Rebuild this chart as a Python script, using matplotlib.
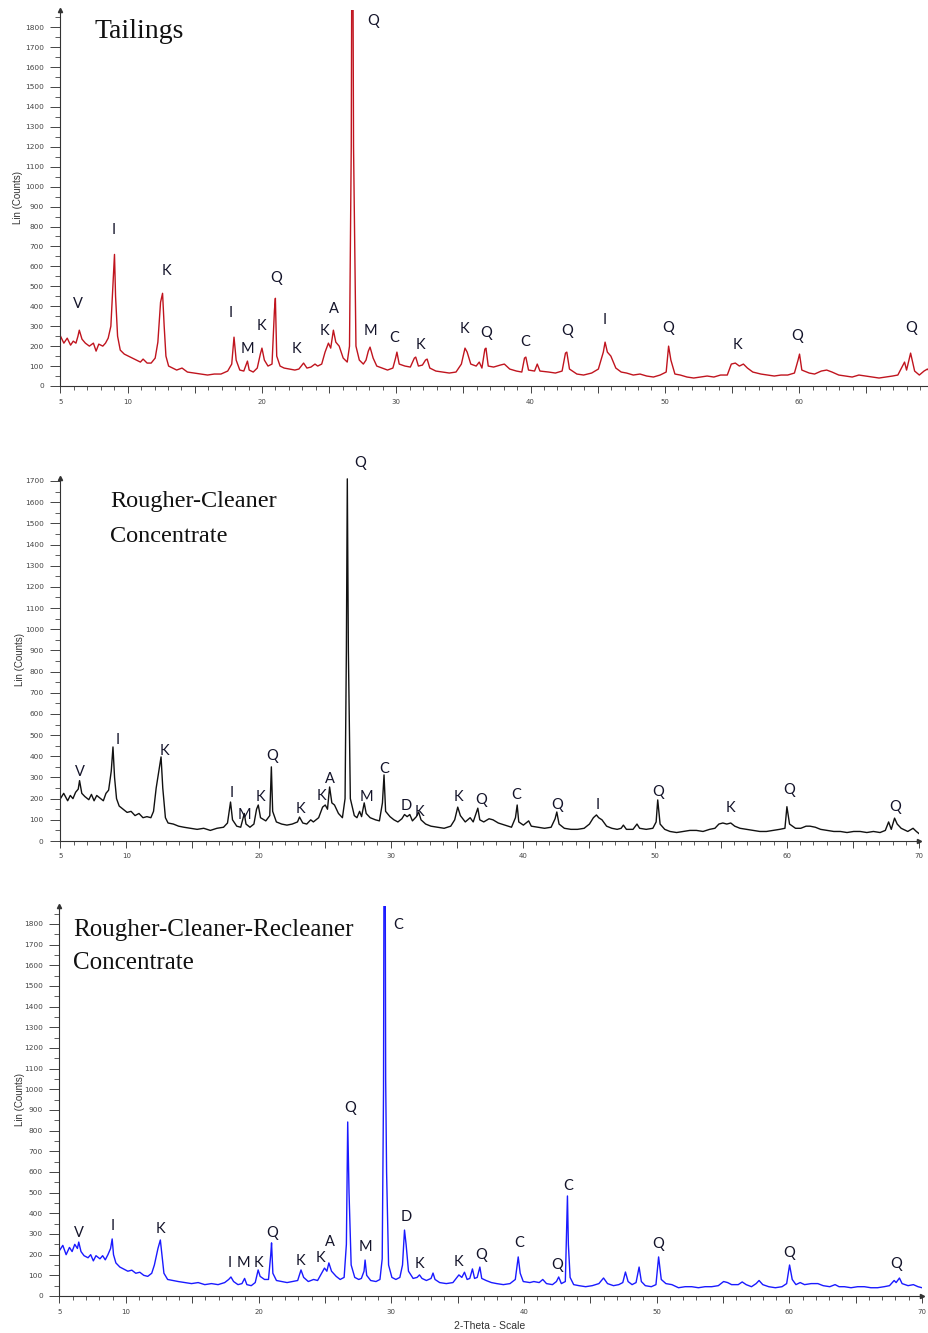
import matplotlib
matplotlib.use("Agg")
import matplotlib.pyplot as plt
from matplotlib.ticker import MultipleLocator, FixedLocator, FuncFormatter

# ---------------- DATA ----------------
tailings_points = [
    (5.0, 250), (5.25, 215), (5.5, 240), (5.75, 205), (5.95, 225), (6.15, 215), (6.3, 250), (6.4, 280),
    (6.6, 235), (6.85, 215), (7.15, 200), (7.45, 215), (7.65, 175), (7.85, 210), (8.15, 200), (8.35, 215),
    (8.55, 240), (8.75, 300), (8.95, 560), (9.02, 660), (9.1, 450), (9.25, 250), (9.45, 180), (9.75, 160),
    (10.05, 150), (10.35, 140), (10.65, 130), (10.95, 120), (11.15, 135), (11.45, 115), (11.75, 115), (12.05, 140),
    (12.25, 220), (12.45, 420), (12.6, 465), (12.72, 300), (12.85, 150), (13.05, 100), (13.35, 90), (13.65, 80),
    (14.05, 90), (14.45, 70), (14.95, 65), (15.45, 60), (15.95, 55), (16.45, 60), (16.95, 60), (17.45, 75),
    (17.75, 110), (17.92, 245), (18.08, 130), (18.35, 80), (18.65, 75), (18.92, 125), (19.05, 80), (19.35, 70),
    (19.65, 90), (19.88, 160), (20.0, 190), (20.18, 130), (20.45, 100), (20.75, 110), (20.93, 380), (21.0, 440),
    (21.1, 150), (21.35, 100), (21.65, 90), (22.05, 85), (22.45, 80), (22.75, 85), (23.1, 115), (23.35, 90),
    (23.65, 95), (23.95, 110), (24.15, 100), (24.45, 110), (24.7, 170), (24.95, 215), (25.12, 190), (25.32, 280),
    (25.5, 220), (25.75, 200), (26.05, 140), (26.35, 120), (26.52, 200), (26.65, 1200), (26.73, 3000), (26.82, 1200),
    (27.0, 200), (27.25, 130), (27.55, 110), (27.75, 130), (27.92, 175), (28.05, 195), (28.28, 140), (28.55, 100),
    (28.95, 90), (29.35, 80), (29.75, 90), (29.95, 140), (30.05, 170), (30.22, 110), (30.65, 100), (31.05, 95),
    (31.35, 140), (31.45, 145), (31.65, 100), (31.95, 105), (32.18, 130), (32.3, 135), (32.5, 90), (32.95, 75),
    (33.45, 70), (33.95, 65), (34.45, 70), (34.85, 110), (35.12, 190), (35.28, 170), (35.55, 110), (35.95, 100),
    (36.18, 120), (36.38, 90), (36.6, 185), (36.68, 190), (36.85, 100), (37.25, 95), (37.75, 105), (38.05, 110),
    (38.45, 85), (38.95, 75), (39.35, 70), (39.55, 140), (39.65, 145), (39.85, 80), (40.3, 75), (40.5, 110),
    (40.7, 75), (41.35, 70), (41.85, 65), (42.35, 75), (42.6, 165), (42.7, 170), (42.9, 85), (43.45, 60),
    (43.95, 55), (44.55, 65), (45.05, 85), (45.42, 170), (45.55, 220), (45.72, 170), (45.98, 150), (46.35, 90),
    (46.75, 70), (47.15, 65), (47.65, 55), (48.15, 60), (48.65, 50), (49.15, 45), (49.65, 55), (50.1, 70),
    (50.28, 200), (50.45, 130), (50.75, 60), (51.15, 55), (51.65, 45), (52.15, 40), (52.65, 45), (53.15, 50),
    (53.65, 45), (54.15, 55), (54.65, 55), (54.95, 110), (55.25, 115), (55.55, 100), (55.85, 110), (56.15, 90),
    (56.55, 70), (57.15, 60), (57.65, 55), (58.15, 50), (58.65, 55), (59.15, 55), (59.65, 65), (59.92, 130),
    (60.03, 160), (60.2, 80), (60.75, 65), (61.15, 60), (61.65, 75), (62.05, 80), (62.45, 70), (62.95, 55),
    (63.45, 50), (63.95, 45), (64.45, 55), (64.95, 50), (65.45, 45), (65.95, 40), (66.45, 45), (66.95, 50),
    (67.35, 55), (67.85, 120), (68.0, 80), (68.3, 165), (68.45, 120), (68.6, 75), (68.95, 55), (69.3, 75),
    (69.55, 85), (69.7, 75),
]

rc_points = [
    (5.0, 200), (5.25, 225), (5.55, 190), (5.75, 215), (5.95, 200), (6.15, 230), (6.35, 245), (6.45, 285),
    (6.62, 225), (6.85, 210), (7.15, 195), (7.35, 220), (7.55, 190), (7.75, 215), (8.05, 200), (8.25, 190),
    (8.45, 225), (8.65, 240), (8.85, 330), (8.98, 444), (9.1, 300), (9.25, 200), (9.45, 165), (9.75, 150),
    (10.05, 135), (10.35, 140), (10.65, 120), (10.95, 130), (11.25, 110), (11.55, 115), (11.85, 110), (12.05, 140),
    (12.25, 250), (12.45, 330), (12.62, 397), (12.75, 250), (12.95, 110), (13.15, 85), (13.55, 80), (13.95, 70),
    (14.35, 65), (14.85, 60), (15.35, 55), (15.85, 60), (16.35, 50), (16.85, 60), (17.35, 65), (17.65, 85),
    (17.88, 184), (18.03, 100), (18.35, 70), (18.65, 65), (18.92, 130), (19.05, 80), (19.35, 65), (19.65, 80),
    (19.85, 150), (19.98, 170), (20.15, 110), (20.55, 95), (20.85, 120), (20.97, 350), (21.07, 140), (21.35, 90),
    (21.75, 80), (22.15, 75), (22.55, 80), (22.95, 90), (23.1, 113), (23.35, 85), (23.65, 80), (23.95, 100),
    (24.15, 90), (24.55, 110), (24.85, 160), (25.05, 170), (25.22, 150), (25.38, 255), (25.55, 180), (25.75, 170),
    (26.05, 130), (26.35, 110), (26.55, 200), (26.65, 900), (26.72, 1710), (26.8, 900), (26.95, 200), (27.25, 120),
    (27.45, 110), (27.65, 140), (27.8, 115), (28.0, 180), (28.15, 130), (28.45, 110), (28.85, 100), (29.15, 95),
    (29.38, 180), (29.5, 312), (29.62, 140), (29.95, 115), (30.25, 100), (30.55, 90), (30.85, 105), (31.05, 125),
    (31.25, 115), (31.45, 125), (31.65, 95), (31.95, 115), (32.12, 137), (32.3, 100), (32.65, 80), (33.05, 70),
    (33.55, 65), (34.05, 60), (34.55, 70), (34.85, 100), (35.08, 160), (35.28, 120), (35.65, 90), (36.02, 110),
    (36.25, 90), (36.6, 155), (36.75, 100), (37.05, 90), (37.45, 105), (37.75, 100), (38.15, 85), (38.65, 75),
    (39.15, 65), (39.45, 110), (39.58, 170), (39.7, 90), (40.05, 75), (40.45, 95), (40.65, 70), (41.15, 65),
    (41.65, 60), (42.15, 65), (42.45, 105), (42.58, 137), (42.75, 80), (43.15, 60), (43.65, 55), (44.15, 55),
    (44.65, 60), (45.05, 80), (45.35, 110), (45.58, 123), (45.75, 110), (46.0, 100), (46.35, 70), (46.75, 60),
    (47.15, 55), (47.45, 60), (47.62, 75), (47.85, 55), (48.35, 55), (48.65, 80), (48.85, 60), (49.35, 55),
    (49.85, 60), (50.1, 90), (50.22, 194), (50.4, 80), (50.75, 55), (51.15, 45), (51.65, 40), (52.15, 45),
    (52.65, 50), (53.15, 50), (53.65, 45), (54.15, 55), (54.55, 60), (54.85, 80), (55.15, 85), (55.45, 80),
    (55.75, 85), (56.05, 70), (56.45, 60), (56.95, 55), (57.45, 50), (57.95, 45), (58.45, 45), (58.95, 50),
    (59.45, 55), (59.85, 60), (60.0, 162), (60.2, 80), (60.65, 60), (61.05, 60), (61.45, 70), (61.75, 70),
    (62.15, 65), (62.55, 55), (63.05, 50), (63.55, 45), (64.05, 45), (64.55, 40), (65.05, 45), (65.55, 45),
    (66.05, 40), (66.55, 45), (67.05, 40), (67.45, 50), (67.7, 90), (67.9, 55), (68.15, 108), (68.35, 80),
    (68.65, 60), (69.15, 45), (69.55, 60), (69.8, 45), (70.0, 35),
]

rcr_points = [
    (5.0, 220), (5.25, 245), (5.5, 200), (5.75, 235), (5.95, 215), (6.15, 250), (6.35, 230), (6.45, 261),
    (6.62, 215), (6.85, 195), (7.15, 185), (7.35, 200), (7.55, 170), (7.75, 195), (8.05, 180), (8.25, 195),
    (8.45, 175), (8.65, 200), (8.85, 230), (8.97, 276), (9.07, 200), (9.25, 160), (9.55, 140), (9.85, 130),
    (10.15, 120), (10.45, 125), (10.75, 110), (11.05, 115), (11.35, 100), (11.65, 95), (11.95, 110), (12.15, 150),
    (12.42, 230), (12.6, 271), (12.72, 200), (12.87, 110), (13.15, 80), (13.55, 75), (13.95, 70), (14.45, 65),
    (14.95, 60), (15.45, 65), (15.95, 55), (16.45, 60), (16.95, 55), (17.45, 65), (17.75, 80), (17.92, 92),
    (18.12, 70), (18.45, 55), (18.75, 60), (18.95, 85), (19.12, 55), (19.45, 50), (19.75, 65), (19.97, 126),
    (20.12, 95), (20.45, 80), (20.75, 80), (20.92, 200), (20.98, 257), (21.08, 110), (21.35, 75), (21.75, 70),
    (22.15, 65), (22.55, 70), (22.95, 75), (23.2, 126), (23.4, 90), (23.75, 70), (24.15, 80), (24.45, 75),
    (24.75, 110), (24.97, 135), (25.15, 120), (25.3, 160), (25.5, 120), (25.85, 95), (26.15, 80), (26.45, 90),
    (26.62, 250), (26.72, 842), (26.82, 500), (26.98, 150), (27.25, 90), (27.55, 80), (27.75, 85), (27.95, 120),
    (28.03, 174), (28.15, 100), (28.45, 75), (28.85, 70), (29.15, 80), (29.32, 180), (29.42, 1000), (29.5, 3500),
    (29.58, 1050), (29.65, 600), (29.8, 150), (30.05, 90), (30.35, 80), (30.65, 90), (30.85, 150), (31.0, 319),
    (31.12, 250), (31.3, 120), (31.65, 85), (31.95, 90), (32.13, 102), (32.32, 85), (32.65, 75), (33.0, 85),
    (33.15, 111), (33.3, 80), (33.65, 65), (34.15, 60), (34.65, 65), (34.95, 90), (35.1, 102), (35.32, 90),
    (35.52, 115), (35.72, 80), (35.92, 85), (36.12, 131), (36.28, 85), (36.48, 90), (36.68, 140), (36.82, 85),
    (37.15, 75), (37.55, 65), (37.95, 60), (38.45, 55), (38.95, 60), (39.35, 80), (39.57, 189), (39.72, 110),
    (39.95, 70), (40.45, 65), (40.75, 70), (41.15, 65), (41.42, 80), (41.7, 60), (42.15, 55), (42.45, 70),
    (42.62, 92), (42.82, 60), (43.12, 70), (43.28, 484), (43.35, 250), (43.48, 90), (43.75, 55), (44.15, 50),
    (44.65, 45), (45.15, 50), (45.65, 60), (46.0, 87), (46.3, 60), (46.75, 50), (47.15, 55), (47.45, 65),
    (47.65, 116), (47.85, 70), (48.15, 55), (48.45, 65), (48.68, 140), (48.85, 70), (49.15, 50), (49.6, 45),
    (49.95, 55), (50.15, 189), (50.35, 80), (50.7, 60), (51.15, 55), (51.65, 40), (52.15, 45), (52.65, 45),
    (53.15, 40), (53.65, 45), (54.15, 45), (54.65, 50), (55.05, 70), (55.35, 65), (55.65, 55), (56.15, 55),
    (56.45, 68), (56.75, 55), (57.15, 45), (57.5, 60), (57.72, 75), (58.0, 55), (58.45, 45), (58.95, 40),
    (59.45, 45), (59.8, 60), (60.02, 150), (60.22, 80), (60.5, 55), (60.82, 65), (61.15, 55), (61.65, 60),
    (62.15, 60), (62.55, 50), (63.05, 45), (63.45, 55), (63.75, 45), (64.15, 45), (64.65, 40), (65.15, 45),
    (65.65, 45), (66.15, 40), (66.65, 40), (67.15, 45), (67.55, 50), (67.9, 75), (68.05, 65), (68.3, 87),
    (68.5, 60), (68.95, 50), (69.35, 55), (69.7, 45), (70.0, 40),
]

tailings_labels = [
    ("V", 6.27, 411), ("I", 8.99, 783), ("K", 12.9, 577), ("I", 17.65, 366), ("M", 18.9, 185),
    ("K", 19.97, 301), ("Q", 21.08, 542), ("K", 22.57, 185), ("K", 24.65, 276), ("A", 25.32, 386),
    ("Q", 28.3, 1830), ("M", 28.08, 276), ("C", 29.86, 241), ("K", 31.8, 206), ("K", 35.08, 286),
    ("Q", 36.72, 266), ("C", 39.62, 221), ("Q", 42.74, 276), ("I", 45.5, 331), ("Q", 50.27, 291),
    ("K", 55.4, 206), ("Q", 59.87, 251), ("Q", 68.36, 291),
]
rc_labels = [
    ("V", 6.44, 326), ("I", 9.31, 477), ("K", 12.87, 425), ("I", 17.97, 227), ("M", 18.92, 123),
    ("K", 20.13, 208), ("Q", 21.04, 401), ("K", 23.16, 151), ("K", 24.75, 212), ("A", 25.43, 293),
    ("Q", 27.7, 1785), ("M", 28.15, 208), ("C", 29.52, 340), ("D", 31.19, 165), ("K", 32.17, 137),
    ("K", 35.12, 208), ("Q", 36.86, 194), ("C", 39.51, 217), ("Q", 42.61, 170), ("I", 45.71, 170),
    ("Q", 50.25, 231), ("K", 55.7, 156), ("Q", 60.16, 241), ("Q", 68.19, 161),
]
rcr_labels = [
    ("V", 6.47, 305), ("I", 9.02, 339), ("K", 12.63, 324), ("I", 17.82, 160), ("M", 18.87, 160),
    ("K", 20.0, 160), ("Q", 21.05, 305), ("K", 23.16, 169), ("K", 24.66, 184), ("A", 25.34, 261),
    ("Q", 26.92, 910), ("M", 28.05, 237), ("C", 30.53, 1795), ("D", 31.13, 382), ("K", 32.1, 155),
    ("K", 35.03, 164), ("Q", 36.77, 198), ("C", 39.62, 257), ("Q", 42.48, 150), ("C", 43.31, 532),
    ("Q", 50.15, 252), ("Q", 59.98, 208), ("Q", 68.04, 155),
]

panel_titles = [["Tailings"], ["Rougher-Cleaner", "Concentrate"],
                ["Rougher-Cleaner-Recleaner", "Concentrate"]]
y_tick_max = [1800, 1700, 1800]
x_label = "2-Theta - Scale"
y_label = "Lin (Counts)"

# ---------------- FIGURE ----------------
W, H = 929, 1333
fig = plt.figure(figsize=(W / 100, H / 100), dpi=100)

def px_rect(left, right, top, bottom):
    return [left / W, 1 - bottom / H, (right - left) / W, (bottom - top) / H]

panels = [
    dict(points=tailings_points, labels=tailings_labels, color="#c0141e",
         rect=px_rect(60.5, 929, 10, 386), xlim=(5, 69.67), ylim=(0, 1886),
         title_x=95, title_ys=[32], title_size=20, ylab_xy=(18, 197), xarrow=False),
    dict(points=rc_points, labels=rc_labels, color="#111111",
         rect=px_rect(60.4, 919, 478, 841), xlim=(5, 70), ylim=(0, 1714),
         title_x=110, title_ys=[502, 537], title_size=17.5, ylab_xy=(20, 660), xarrow=True),
    dict(points=rcr_points, labels=rcr_labels, color="#1a1aff",
         rect=px_rect(59.5, 922, 906, 1296), xlim=(5, 70), ylim=(0, 1887),
         title_x=73, title_ys=[930, 963], title_size=18, ylab_xy=(20, 1100), xarrow=True),
]

tick_color = "#444444"

def xfmt(v, pos):
    iv = int(round(v))
    if iv == 5 or iv % 10 == 0:
        return str(iv)
    return ""

for i, p in enumerate(panels):
    ax = fig.add_axes(p["rect"])
    theta, counts = zip(*p["points"])
    ax.plot(theta, counts, color=p["color"], lw=1.0)
    ax.set_xlim(*p["xlim"])
    ax.set_ylim(*p["ylim"])
    for s in ("top", "right"):
        ax.spines[s].set_visible(False)
    for s in ("left", "bottom"):
        ax.spines[s].set_color("#333333")
        ax.spines[s].set_linewidth(0.8)
    ax.yaxis.set_major_locator(FixedLocator(list(range(0, y_tick_max[i] + 1, 100))))
    ax.yaxis.set_minor_locator(MultipleLocator(50))
    ax.xaxis.set_major_locator(MultipleLocator(5))
    ax.xaxis.set_minor_locator(MultipleLocator(1))
    ax.xaxis.set_major_formatter(FuncFormatter(xfmt))
    ax.tick_params(axis="y", which="major", length=7, width=0.7, labelsize=5.3,
                   colors=tick_color, pad=5)
    ax.tick_params(axis="y", which="minor", length=3.5, width=0.6, colors=tick_color)
    ax.tick_params(axis="x", which="major", length=5, width=0.7, labelsize=5.0,
                   colors=tick_color, pad=4)
    ax.tick_params(axis="x", which="minor", length=3, width=0.6, colors=tick_color)
    # axis arrows
    ax.plot([0], [1.0], marker="^", color="#333333", markersize=3, transform=ax.transAxes, clip_on=False)
    if p["xarrow"]:
        ax.plot([1.0], [0], marker=">", color="#333333", markersize=3, transform=ax.transAxes, clip_on=False)
    # peak labels
    for txt, x, y in p["labels"]:
        ax.text(x, y, txt, ha="center", va="center", fontsize=10.5, family="Lato",
                color="#14142a", clip_on=False)
    # titles
    for line, ty in zip(panel_titles[i], p["title_ys"]):
        fig.text(p["title_x"] / W, 1 - ty / H, line, ha="left", va="center",
                 fontsize=p["title_size"], family="Liberation Serif", color="#111111")
    lx, ly = p["ylab_xy"]
    fig.text(lx / W, 1 - ly / H, y_label, rotation=90, ha="center", va="center",
             fontsize=7, family="Liberation Sans", color="#333333")

fig.text(490 / W, 1 - 1326 / H, x_label, ha="center", va="center", fontsize=7.5,
         family="Liberation Sans", color="#333333")

fig.savefig("out.png", dpi=100)
